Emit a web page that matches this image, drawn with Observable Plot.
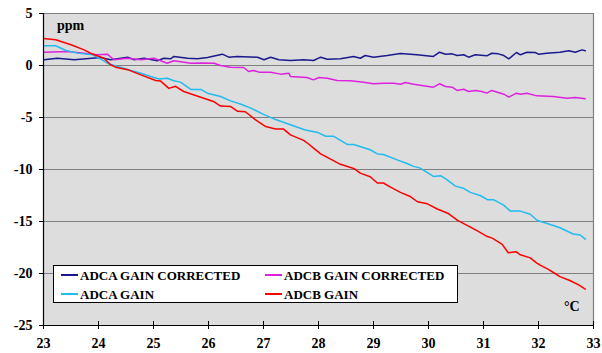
<!DOCTYPE html>
<html>
<head>
<meta charset="utf-8">
<script src="https://cdn.jsdelivr.net/npm/d3@7"></script>
<script src="https://cdn.jsdelivr.net/npm/@observablehq/plot@0.6"></script>
<style>
  body { margin: 0; background: #fff; }
  #wrap { position: relative; width: 602px; height: 353px; font-family: "Liberation Serif", "Times New Roman", serif; font-weight: bold; }
  #legend { position: absolute; left: 53px; top: 265px; width: 403px; height: 36px; background: #fff; border: 1px solid #000; }
  .item { position: absolute; font-size: 13px; line-height: 13px; white-space: nowrap; }
  .sw { position: absolute; width: 17px; height: 2px; }
  .lbl { position: absolute; font-size: 14px; line-height: 14px; white-space: nowrap; }
</style>
</head>
<body>
<div id="wrap"></div>
<script>
const xTicks = [23, 24, 25, 26, 27, 28, 29, 30, 31, 32, 33];
const yTicks = [5, 0, -5, -10, -15, -20, -25];
const gridY = [5, 0, -5, -10, -15, -20];
const yUnit = "ppm";
const xUnit = "°C";

const seriesNames = ["ADCA GAIN CORRECTED", "ADCB GAIN CORRECTED", "ADCA GAIN", "ADCB GAIN"];
const seriesColors = ["#1a1a8c", "#dd22dd", "#22bbee", "#ff0000"];

const adcaGainCorrected = [
  [23.01,0.55],[23.25,0.7],[23.56,0.55],[24.04,0.77],[24.22,0.55],[24.53,0.8],[24.65,0.55],[24.83,0.7],
  [25.07,0.45],[25.19,0.7],[25.31,0.64],[25.37,0.87],[25.62,0.7],[25.80,0.64],[25.98,0.77],[26.25,1.09],
  [26.37,0.8],[26.52,0.87],[26.89,0.8],[27.01,0.55],[27.13,0.8],[27.28,0.55],[27.49,0.48],[27.73,0.55],
  [27.91,0.48],[28.04,0.8],[28.16,0.6],[28.40,0.64],[28.64,0.87],[28.76,0.7],[28.85,0.96],[29.00,0.8],
  [29.25,0.96],[29.49,1.15],[29.79,1.03],[30.09,0.87],[30.20,1.28],[30.31,1.09],[30.43,1.12],[30.52,0.96],
  [30.64,1.03],[30.73,0.8],[30.85,1.03],[31.06,0.93],[31.15,1.18],[31.27,1.12],[31.37,0.96],[31.46,0.64],
  [31.60,1.25],[31.67,1.03],[31.79,1.28],[31.94,1.25],[32.00,1.09],[32.15,1.18],[32.39,1.28],[32.55,1.41],
  [32.67,1.28],[32.79,1.5],[32.85,1.41]
];

const adcbGainCorrected = [
  [23.01,1.28],[23.44,1.35],[23.73,1.18],[23.98,1.03],[24.16,1.09],[24.28,0.55],[24.53,0.7],[24.77,0.55],
  [25.01,0.7],[25.25,0.22],[25.37,0.45],[25.68,0.22],[25.86,0.25],[26.10,0.22],[26.22,0.0],[26.40,-0.16],
  [26.64,-0.19],[26.73,-0.58],[26.82,-0.48],[26.92,-0.64],[27.13,-0.64],[27.31,-0.83],[27.46,-0.74],[27.49,-1.06],
  [27.79,-1.15],[27.91,-1.38],[28.01,-1.15],[28.16,-1.22],[28.34,-1.44],[28.58,-1.47],[28.82,-1.6],[29.00,-1.76],
  [29.19,-1.7],[29.37,-1.7],[29.49,-1.8],[29.58,-1.63],[29.73,-1.8],[29.91,-1.95],[30.09,-2.08],[30.20,-1.76],
  [30.31,-2.02],[30.43,-2.08],[30.52,-2.4],[30.64,-2.28],[30.73,-2.5],[30.85,-2.4],[30.97,-2.5],[31.06,-2.66],
  [31.15,-2.4],[31.27,-2.6],[31.37,-2.76],[31.46,-3.04],[31.60,-2.66],[31.67,-2.76],[31.79,-2.66],[31.97,-2.92],
  [32.27,-2.98],[32.52,-3.14],[32.67,-3.08],[32.85,-3.2]
];

const adcaGain = [
  [23.01,1.9],[23.22,1.9],[23.41,1.44],[23.62,1.19],[23.89,1.03],[24.07,0.55],[24.16,0.22],[24.34,-0.1],
  [24.46,-0.26],[24.59,-0.48],[24.77,-0.74],[24.95,-1.06],[25.10,-1.3],[25.25,-1.22],[25.37,-1.47],[25.49,-1.6],
  [25.68,-2.3],[25.86,-2.3],[25.98,-2.66],[26.22,-2.98],[26.40,-3.4],[26.58,-3.7],[26.77,-4.1],[27.00,-4.7],
  [27.22,-5.2],[27.49,-5.7],[27.76,-6.2],[27.99,-6.45],[28.13,-6.8],[28.27,-6.8],[28.53,-7.6],[28.64,-7.6],
  [28.94,-8.1],[29.07,-8.5],[29.18,-8.56],[29.43,-9.07],[29.62,-9.45],[29.73,-9.7],[29.85,-9.87],[30.09,-10.67],
  [30.22,-10.6],[30.34,-11.0],[30.49,-11.6],[30.63,-11.8],[30.76,-12.2],[30.94,-12.5],[31.07,-12.9],[31.18,-12.9],
  [31.36,-13.4],[31.49,-14.0],[31.67,-14.0],[31.85,-14.3],[31.98,-14.9],[32.16,-15.2],[32.39,-15.6],[32.63,-16.2],
  [32.76,-16.3],[32.85,-16.7]
];

const adcbGain = [
  [23.0,2.6],[23.22,2.47],[23.50,2.0],[23.74,1.5],[23.89,1.1],[24.10,0.7],[24.22,0.07],[24.31,-0.16],
  [24.53,-0.4],[24.77,-0.9],[25.04,-1.44],[25.13,-1.5],[25.28,-2.2],[25.40,-2.0],[25.55,-2.5],[25.86,-3.05],
  [26.09,-3.46],[26.22,-3.9],[26.40,-3.94],[26.53,-4.4],[26.67,-4.45],[26.85,-5.2],[27.04,-5.87],[27.22,-6.1],
  [27.36,-6.1],[27.49,-6.67],[27.73,-7.2],[27.82,-7.55],[27.91,-7.95],[28.04,-8.5],[28.22,-9.0],[28.40,-9.5],
  [28.64,-9.9],[28.76,-10.35],[28.94,-10.7],[29.07,-11.3],[29.18,-11.3],[29.31,-11.7],[29.49,-12.2],[29.67,-12.6],
  [29.80,-13.1],[29.98,-13.3],[30.16,-13.8],[30.35,-14.2],[30.53,-14.9],[30.71,-15.4],[30.89,-15.9],[31.07,-16.45],
  [31.16,-16.6],[31.34,-17.2],[31.45,-18.0],[31.59,-17.9],[31.67,-18.2],[31.85,-18.5],[31.97,-19.0],[32.03,-19.2],
  [32.18,-19.6],[32.30,-20.0],[32.39,-20.3],[32.58,-20.7],[32.73,-21.1],[32.85,-21.5]
];

const allSeries = [adcaGainCorrected, adcbGainCorrected, adcaGain, adcbGain];
const data = allSeries.flatMap((s, i) => s.map(([t, v]) => ({t, v, series: seriesNames[i]})));

const font = {fontFamily: "Liberation Serif", fontWeight: "bold"};

const chart = Plot.plot({
  width: 602,
  height: 353,
  marginLeft: 43,
  marginRight: 9,
  marginTop: 13,
  marginBottom: 28,
  style: {fontFamily: "Liberation Serif", fontSize: "14px", fontWeight: "bold", color: "#000", background: "transparent"},
  x: {domain: [23, 33]},
  y: {domain: [-25, 5]},
  color: {domain: seriesNames, range: seriesColors},
  marks: [
    Plot.frame({fill: "#dddddd", stroke: null}),
    Plot.ruleY(gridY, {stroke: "#808080", strokeWidth: 1.2}),
    Plot.ruleX([33], {stroke: "#808080", strokeWidth: 1.2}),
    ...seriesNames.map(name => Plot.line(data.filter(d => d.series === name), {x: "t", y: "v", stroke: "series", strokeWidth: 1.5})),
    Plot.ruleX([23], {stroke: "#000", strokeWidth: 1.2}),
    Plot.ruleY([-25], {stroke: "#000", strokeWidth: 1.2}),
    Plot.axisY({ticks: yTicks, tickSize: 4, tickPadding: 7, tickFormat: d => String(d), label: null, fontSize: 14, ...font}),
    Plot.axisX({ticks: xTicks, tickSize: 8, dy: -4, tickFormat: () => "", label: null}),
    Plot.axisX({ticks: xTicks, tickSize: 0, tickPadding: 13, tickFormat: d => String(d), label: null, fontSize: 14, ...font})
  ]
});

const wrap = document.getElementById("wrap");
wrap.appendChild(chart);

// unit labels
function addLabel(text, left, top) {
  const el = document.createElement("div");
  el.className = "lbl";
  el.style.left = left + "px";
  el.style.top = top + "px";
  el.textContent = text;
  wrap.appendChild(el);
}
addLabel(yUnit, 57, 19);
addLabel(xUnit, 564, 300);

// legend
const legend = document.createElement("div");
legend.id = "legend";
const legendOrder = [
  {name: seriesNames[0], col: 0, row: 0},
  {name: seriesNames[1], col: 1, row: 0},
  {name: seriesNames[2], col: 0, row: 1},
  {name: seriesNames[3], col: 1, row: 1}
];
legendOrder.forEach(({name, col, row}) => {
  const color = seriesColors[seriesNames.indexOf(name)];
  const left = col === 0 ? 7 : 211;
  const top = row === 0 ? 8 : 27;
  const sw = document.createElement("div");
  sw.className = "sw";
  sw.style.left = left + "px";
  sw.style.top = top + "px";
  sw.style.background = color;
  legend.appendChild(sw);
  const txt = document.createElement("div");
  txt.className = "item";
  txt.style.left = (left + 19) + "px";
  txt.style.top = (top - 5) + "px";
  txt.textContent = name;
  legend.appendChild(txt);
});
wrap.appendChild(legend);
</script>
</body>
</html>
